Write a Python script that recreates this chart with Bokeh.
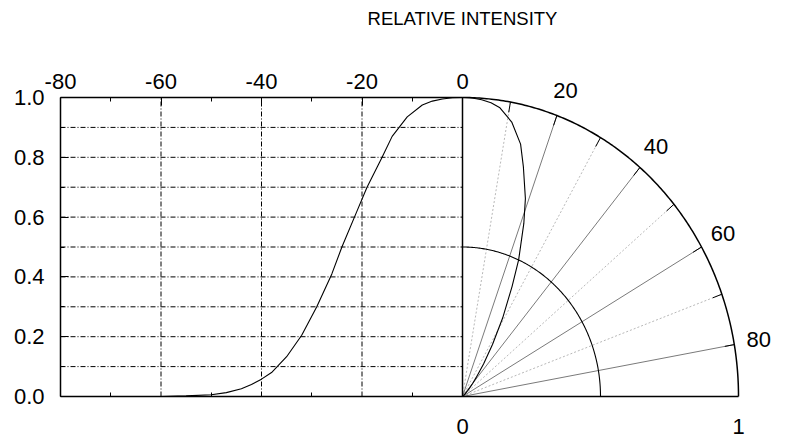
import numpy as np
from bokeh.plotting import figure
from bokeh.models import (Range1d, LinearAxis, FixedTicker, LabelSet, Label,
                          ColumnDataSource, PrintfTickFormatter)
from bokeh.core.properties import value
from bokeh.embed import file_html
from bokeh.resources import INLINE

# ---- data ----
title_text = "RELATIVE INTENSITY"
angle_deg = [-80, -70, -60, -55, -50, -47, -44, -42, -40, -38, -35, -32, -29,
             -26, -24, -21, -19, -16, -14, -11, -8, -6, -4, -2, 0]
intensity = [0.0, 0.0, 0.0, 0.002, 0.006, 0.013, 0.026, 0.04, 0.058, 0.08, 0.133,
             0.205, 0.30, 0.41, 0.50, 0.62, 0.70, 0.80, 0.87, 0.935, 0.975, 0.988,
             0.995, 0.999, 1.0]
x_ticks_deg = [-80, -60, -40, -20, 0]
x_minor_deg = [-70, -50, -30, -10]
x_grid_deg = [-60, -40, -20]
y_ticks = [0.0, 0.2, 0.4, 0.6, 0.8, 1.0]
y_minor = [0.1, 0.3, 0.5, 0.7, 0.9]
y_grid = [0.1, 0.2, 0.3, 0.4, 0.5, 0.6, 0.7, 0.8, 0.9]
polar_r_ticks = [0, 1]
polar_spokes_major = [20, 40, 60, 80]
polar_spokes_minor = [10, 30, 50, 70]
polar_circles = [0.5, 1.0]
polar_labels = ["20", "40", "60", "80"]

FONT = "Liberation Sans"
LABEL_SIZE = "22px"
W, H = 785, 442
# screen geometry of the cartesian box (pixels)
BOX_L, BOX_R0, BOX_T, BOX_B = 60, 462, 97, 396
PX_PER_DEG = (BOX_R0 - BOX_L) / 80.0
PX_PER_Y = BOX_B - BOX_T
PX_PER_R = 276.0
K = PX_PER_DEG / PX_PER_R          # polar radius units per degree on screen

DEG_START = -80 - BOX_L / PX_PER_DEG
DEG_END = -80 + (W - BOX_L) / PX_PER_DEG
Y_START = -(H - BOX_B) / PX_PER_Y
Y_END = BOX_B / PX_PER_Y

p = figure(width=W, height=H,
           x_range=Range1d(DEG_START, DEG_END), y_range=Range1d(Y_START, Y_END),
           output_backend="svg", toolbar_location=None,
           x_axis_location=None, y_axis_location=None,
           min_border=0, min_border_left=0, min_border_right=0,
           min_border_top=0, min_border_bottom=0,
           outline_line_color=None, background_fill_color="white",
           border_fill_color="white")
p.extra_x_ranges = {"polar": Range1d(DEG_START * K, DEG_END * K)}
p.center = []


def style_axis(ax, standoff):
    ax.axis_line_width = 1.5
    ax.axis_line_color = "black"
    ax.major_tick_in = 8
    ax.major_tick_out = 0
    ax.minor_tick_in = 4
    ax.minor_tick_out = 0
    ax.major_tick_line_color = "black"
    ax.minor_tick_line_color = "black"
    ax.major_label_text_font = FONT
    ax.major_label_text_font_size = LABEL_SIZE
    ax.major_label_text_color = "black"
    ax.major_label_standoff = standoff


# vertical dash-dot grid in the cartesian part
p.segment(x0=x_grid_deg, x1=x_grid_deg, y0=[0] * len(x_grid_deg), y1=[1] * len(x_grid_deg),
          line_color="black", line_dash="5 2 1 2", line_width=1)
# horizontal dash-dot grid lines, limited to the cartesian part
p.segment(x0=[x_ticks_deg[0]] * len(y_grid), x1=[x_ticks_deg[-1]] * len(y_grid),
          y0=y_grid, y1=y_grid, line_color="black", line_dash="5 2 1 2", line_width=1)

top_ax = LinearAxis(ticker=FixedTicker(ticks=x_ticks_deg, minor_ticks=x_minor_deg),
                    formatter=PrintfTickFormatter(format="%d"),
                    bounds=(x_ticks_deg[0], x_ticks_deg[-1]), fixed_location=1.0)
style_axis(top_ax, 9)
p.add_layout(top_ax, "above")

left_ax = LinearAxis(ticker=FixedTicker(ticks=y_ticks, minor_ticks=y_minor),
                     formatter=PrintfTickFormatter(format="%.1f"),
                     bounds=(y_ticks[0], y_ticks[-1]), fixed_location=x_ticks_deg[0])
style_axis(left_ax, 16)
p.add_layout(left_ax, "left")

bottom_ax = LinearAxis(x_range_name="polar",
                       ticker=FixedTicker(ticks=polar_r_ticks,
                                          minor_ticks=[d * K for d in x_minor_deg]),
                       formatter=PrintfTickFormatter(format="%d"),
                       bounds=(x_ticks_deg[0] * K, polar_r_ticks[-1]), fixed_location=0.0)
style_axis(bottom_ax, 22)
bottom_ax.major_tick_in = 0
p.add_layout(bottom_ax, "below")

# polar grid: spokes
th_min = np.radians(polar_spokes_minor)
p.segment(x0=0, y0=0, x1=np.sin(th_min), y1=np.cos(th_min), x_range_name="polar",
          line_color="#b8b8b8", line_dash="2 2", line_width=1)
th_maj = np.radians(polar_spokes_major)
p.segment(x0=0, y0=0, x1=np.sin(th_maj), y1=np.cos(th_maj), x_range_name="polar",
          line_color="#7a7a7a", line_width=1)
# ticks on outer circle
th_all = np.radians(sorted(polar_spokes_minor + polar_spokes_major))
p.segment(x0=0.965 * np.sin(th_all), y0=0.965 * np.cos(th_all),
          x1=np.sin(th_all), y1=np.cos(th_all), x_range_name="polar",
          line_color="black", line_width=1)

# polar circles
th = np.radians(np.linspace(0, 90, 181))
for r in polar_circles:
    p.line(r * np.sin(th), r * np.cos(th), x_range_name="polar",
           line_color="black", line_width=1.5 if r == 1.0 else 1.1)

# separating vertical line at angle 0 / r = 0
p.segment(x0=[0], x1=[0], y0=[y_ticks[0]], y1=[y_ticks[-1]],
          line_color="black", line_width=1.5)

# cartesian curve
p.line(angle_deg, intensity, line_color="black", line_width=1.1)

# polar curve
theta = np.radians(np.abs(np.array(angle_deg, dtype=float)))
inten = np.array(intensity)
p.line(inten * np.sin(theta), inten * np.cos(theta), x_range_name="polar",
       line_color="black", line_width=1.1)

# polar angle labels
lab_r = 1.09
th_lab = np.radians(polar_spokes_major)
src = ColumnDataSource(dict(x=lab_r * np.sin(th_lab), y=lab_r * np.cos(th_lab),
                            text=polar_labels))
p.add_layout(LabelSet(x="x", y="y", text="text", source=src, x_range_name="polar",
                      text_align="center", text_baseline="middle",
                      text_font=value(FONT), text_font_size=value(LABEL_SIZE),
                      text_color="black"))

# title
p.add_layout(Label(x=0, y=(BOX_B - 18) / PX_PER_Y, x_range_name="polar", text=title_text,
                   text_align="center", text_baseline="middle",
                   text_font=FONT, text_font_size="18.5px", text_color="black"))

open("out.html", "w").write(file_html(p, INLINE))
